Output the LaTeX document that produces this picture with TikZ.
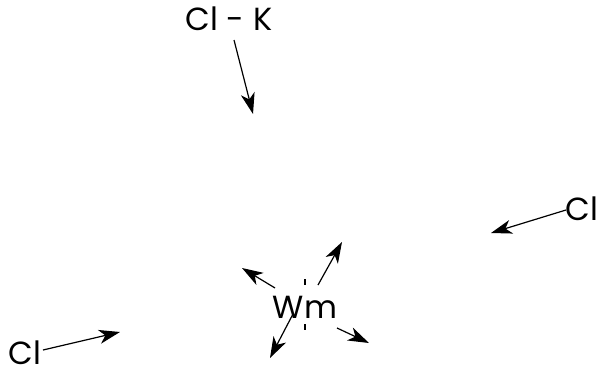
\documentclass[tikz,border=0pt]{standalone}
\usepackage{fontspec}
\setmainfont{Poppins}
\usetikzlibrary{arrows.meta}

\begin{document}
\begin{tikzpicture}[x=1pt,y=-1pt,
  every node/.style={font=\fontsize{32}{38}\selectfont, inner sep=1pt, outer sep=0pt, anchor=base},
  arr/.style={line width=1.2pt, -{Stealth[length=21pt,width=14pt,inset=6pt]}}]
\useasboundingbox (0,0) rectangle (600,375);

\node (clk) at (229,30) {Cl - K};
\node (clr) at (582,220) {Cl};
\node (cll) at (25,364) {Cl};
\node (wm) at (305,318) {Wm};

\coordinate (clk-s) at (234,40);
\coordinate (clk-e) at (253,114);
\coordinate (clr-s) at (566,210);
\coordinate (clr-e) at (491,233);
\coordinate (cll-s) at (43,350);
\coordinate (cll-e) at (120,332);

\coordinate (ne-s) at (318,285);
\coordinate (ne-e) at (342,242);
\coordinate (nw-s) at (275,288);
\coordinate (nw-e) at (242,268);
\coordinate (se-s) at (337,328);
\coordinate (se-e) at (369,343);
\coordinate (sw-s) at (293,314);
\coordinate (sw-e) at (270,358);

% incoming
\draw[arr] (clk-s) -- (clk-e);
\draw[arr] (clr-s) -- (clr-e);
\draw[arr] (cll-s) -- (cll-e);

% outgoing from Wm
\draw[arr] (ne-s) -- (ne-e);
\draw[arr] (nw-s) -- (nw-e);
\draw[arr] (se-s) -- (se-e);
\draw[arr] (sw-s) -- (sw-e);

% ticks
\draw[line width=1.4pt] ([yshift=39pt]wm.base) -- ++(0,6);
\draw[line width=1.4pt] ([yshift=-6pt]wm.base) -- ++(0,6);
\end{tikzpicture}
\end{document}
